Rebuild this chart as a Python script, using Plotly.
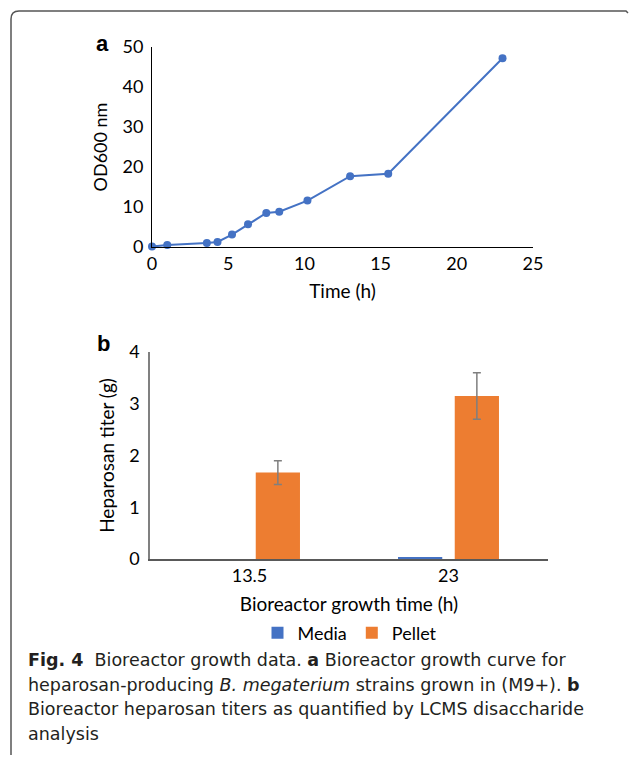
import plotly.graph_objects as go

W, H = 629, 759

# Panel a data
time_h = [0, 1.0, 3.6, 4.3, 5.25, 6.3, 7.5, 8.35, 10.2, 13.0, 15.5, 23.0]
od600 = [0.1, 0.5, 1.0, 1.25, 3.1, 5.7, 8.5, 8.8, 11.6, 17.7, 18.3, 47.2]
od600_err = [0, 0, 0, 0, 0, 0, 0, 0, 0, 0, 0, 0.5]

# Panel b data
growth_time = ["13.5", "23"]
media = [0.0, 0.04]
pellet = [1.67, 3.15]
pellet_err = [0.23, 0.45]

caption_lines = [
    "<b>Fig. 4</b>  Bioreactor growth data. <b>a</b> Bioreactor growth curve for",
    "heparosan-producing <i>B. megaterium</i> strains grown in (M9+). <b>b</b>",
    "Bioreactor heparosan titers as quantified by LCMS disaccharide",
    "analysis",
]

BLUE = "#4472C4"
ORANGE = "#ED7D31"
FONT = "Lato"
CAPTION_FONT = "DejaVu Sans"

def px(x):
    return x / W

def py(y):
    return 1 - y / H

fig = go.Figure()

fig.add_trace(go.Scatter(
    x=time_h, y=od600, mode="lines+markers",
    line=dict(color=BLUE, width=2), marker=dict(color=BLUE, size=8),
    error_y=dict(type="data", array=od600_err, color=BLUE, thickness=1, width=3),
    xaxis="x", yaxis="y", showlegend=False, cliponaxis=False,
))

fig.add_trace(go.Bar(
    x=growth_time, y=media, name="Media", marker=dict(color=BLUE, line=dict(width=0)),
    xaxis="x2", yaxis="y2",
))
fig.add_trace(go.Bar(
    x=growth_time, y=pellet, name="Pellet", marker=dict(color=ORANGE, line=dict(width=0)),
    error_y=dict(type="data", array=pellet_err, color="#7F7F7F", thickness=1.5, width=4),
    xaxis="x2", yaxis="y2",
))

tickfont = dict(family=FONT, size=18, color="#000")
titlefont = dict(family=FONT, size=19, color="#000")

fig.update_layout(
    width=W, height=H, margin=dict(l=0, r=0, t=0, b=0, autoexpand=False),
    paper_bgcolor="white", plot_bgcolor="white",
    barmode="group", bargap=0.43, bargroupgap=0.22,
    xaxis=dict(domain=[px(152), px(533)], anchor="y", range=[0, 25], dtick=5,
               showline=True, linecolor="#000", linewidth=1, showgrid=False,
               zeroline=False, ticks="", tickfont=tickfont, automargin=False,
               title=dict(text="Time (h)", font=titlefont, standoff=12)),
    yaxis=dict(domain=[py(247), py(47)], anchor="x", range=[0, 50], dtick=10,
               showline=True, linecolor="#000", linewidth=1, showgrid=False,
               zeroline=False, ticks="", tickfont=tickfont, automargin=False,
               ticklabelstandoff=4,
               title=dict(text="OD600 nm", font=dict(family=FONT, size=18, color="#000"), standoff=10)),
    xaxis2=dict(domain=[px(150), px(548)], anchor="y2", type="category",
                range=[-0.5, 1.5], showline=True, linecolor="#595959", linewidth=1.5,
                showgrid=False, zeroline=False, ticks="", tickfont=tickfont, automargin=False,
                title=dict(text="Bioreactor growth time (h)", font=titlefont, standoff=12)),
    yaxis2=dict(domain=[py(559), py(352)], anchor="x2", range=[0, 4], dtick=1,
                showline=True, linecolor="#808080", linewidth=1.5, showgrid=False,
                zeroline=False, ticks="", tickfont=tickfont, automargin=False,
                ticklabelstandoff=5,
                title=dict(text="Heparosan titer (g)", font=titlefont, standoff=10)),
    legend=dict(orientation="h", x=px(350), xanchor="center", y=py(633), yanchor="middle",
                font=dict(family=FONT, size=18, color="#000"), itemwidth=30,
                bgcolor="rgba(0,0,0,0)"),
)

# panel labels
fig.add_annotation(text="<b>a</b>", x=px(94), y=py(29), xref="paper", yref="paper",
                   showarrow=False, font=dict(family="Liberation Sans", size=22, color="#000"))
fig.add_annotation(text="<b>b</b>", x=px(95), y=py(343), xref="paper", yref="paper",
                   showarrow=False, font=dict(family="Liberation Sans", size=22, color="#000"))

# caption, one annotation per line
for i, line in enumerate(caption_lines):
    fig.add_annotation(text=line, x=px(26), y=py(660 + 24.6 * i), xref="paper", yref="paper",
                       xanchor="left", yanchor="middle", align="left", showarrow=False,
                       font=dict(family=CAPTION_FONT, size=17.5, color="#231F20"))

# frame
fig.add_shape(type="path", xref="paper", yref="paper",
              path=f"M {px(11)},{py(755)} L {px(11)},{py(19)} Q {px(11)},{py(11)} {px(19)},{py(11)} L {px(626)},{py(11)} L {px(628)},{py(13)}",
              line=dict(color="#555", width=1.5))

fig.write_html("out.html")
